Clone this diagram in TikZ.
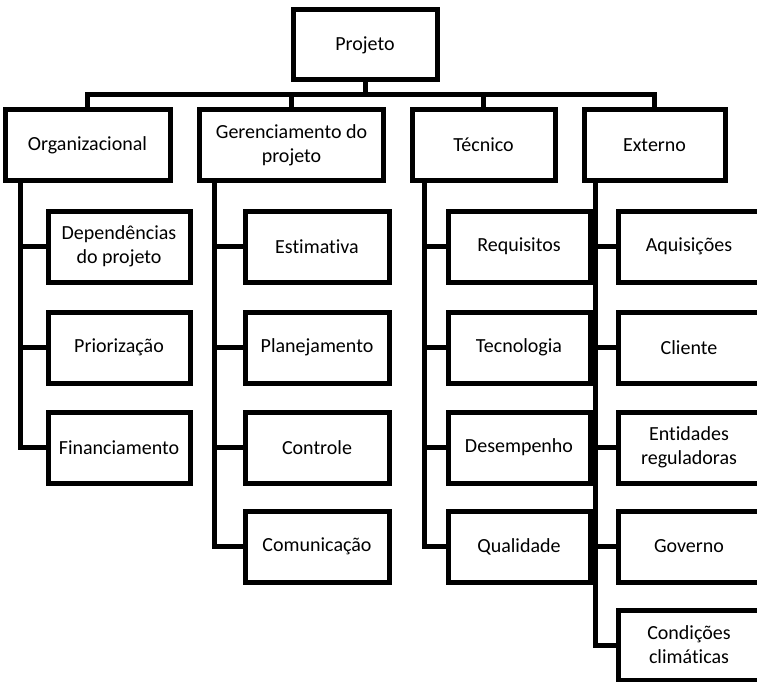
\documentclass[tikz,border=0pt]{standalone}
\usepackage{fontspec}
\setmainfont[Ligatures=NoCommon]{Carlito}
\begin{document}
\begin{tikzpicture}[x=1pt,y=-1pt,
  box/.style={draw=black,line width=5pt,fill=white,align=center,inner sep=0pt,
    minimum height=70pt,font=\fontsize{20}{24}\selectfont},
  link/.style={draw=black,line width=5pt}]
\useasboundingbox (0,0) rectangle (757,682);
\clip (0,0) rectangle (757,682);
% top
\node[box,minimum width=144pt] (proj) at (365,45) {Projeto};
% level 1
\node[box,minimum width=165pt] (org) at (87.5,145) {Organizacional};
\node[box,minimum width=184pt] (ger) at (291.5,145) {Gerenciamento do\\projeto};
\node[box,minimum width=143pt] (tec) at (483.5,145) {Técnico};
\node[box,minimum width=141pt] (ext) at (654.5,145) {Externo};
% children
\tikzset{kid/.style={box,minimum width=142pt,minimum height=71pt}}
\node[kid] (dep) at (119,246.5) {Dependências\\do projeto};
\node[kid] (pri) at (119,347.5) {Priorização};
\node[kid] (fin) at (119,447.5) {Financiamento};
\node[kid,minimum width=144pt] (est) at (317,246.5) {Estimativa};
\node[kid,minimum width=144pt] (pla) at (317,347.5) {Planejamento};
\node[kid,minimum width=144pt] (con) at (317,447.5) {Controle};
\node[kid,minimum width=144pt] (com) at (317,546.5) {Comunicação};
\node[kid] (req) at (519,246.5) {Requisitos};
\node[kid] (tcn) at (519,347.5) {Tecnologia};
\node[kid] (des) at (519,447.5) {Desempenho};
\node[kid] (qua) at (519,546.5) {Qualidade};
\node[kid] (aqu) at (689,246.5) {Aquisições};
\node[kid] (cli) at (689,347.5) {Cliente};
\node[kid] (ent) at (689,447.5) {Entidades\\reguladoras};
\node[kid] (gov) at (689,546.5) {Governo};
\node[kid,minimum height=70pt] (cli2) at (689,645) {Condições\\climáticas};
% bus
\coordinate (bus) at (365,95);
\draw[link] (proj.south) -- (bus);
\draw[link] (org.north) |- (bus) -| (ext.north);
\draw[link] (ger.north) -- (ger.north |- bus);
\draw[link] (tec.north) -- (tec.north |- bus);
% stems
\coordinate (os) at ([xshift=18pt]org.south west);
\coordinate (gs) at ([xshift=17pt]ger.south west);
\coordinate (ts) at ([xshift=15pt]tec.south west);
\coordinate (es) at ([xshift=14pt]ext.south west);
\draw[link] (os) |- (fin.west);
\draw[link] (os |- dep.west) -- (dep.west);
\draw[link] (os |- pri.west) -- (pri.west);
\draw[link] (gs) |- (com.west);
\draw[link] (gs |- est.west) -- (est.west);
\draw[link] (gs |- pla.west) -- (pla.west);
\draw[link] (gs |- con.west) -- (con.west);
\draw[link] (ts) |- (qua.west);
\draw[link] (ts |- req.west) -- (req.west);
\draw[link] (ts |- tcn.west) -- (tcn.west);
\draw[link] (ts |- des.west) -- (des.west);
\draw[link] (es) |- (cli2.west);
\draw[link] (es |- aqu.west) -- (aqu.west);
\draw[link] (es |- cli.west) -- (cli.west);
\draw[link] (es |- ent.west) -- (ent.west);
\draw[link] (es |- gov.west) -- (gov.west);
\end{tikzpicture}
\end{document}
